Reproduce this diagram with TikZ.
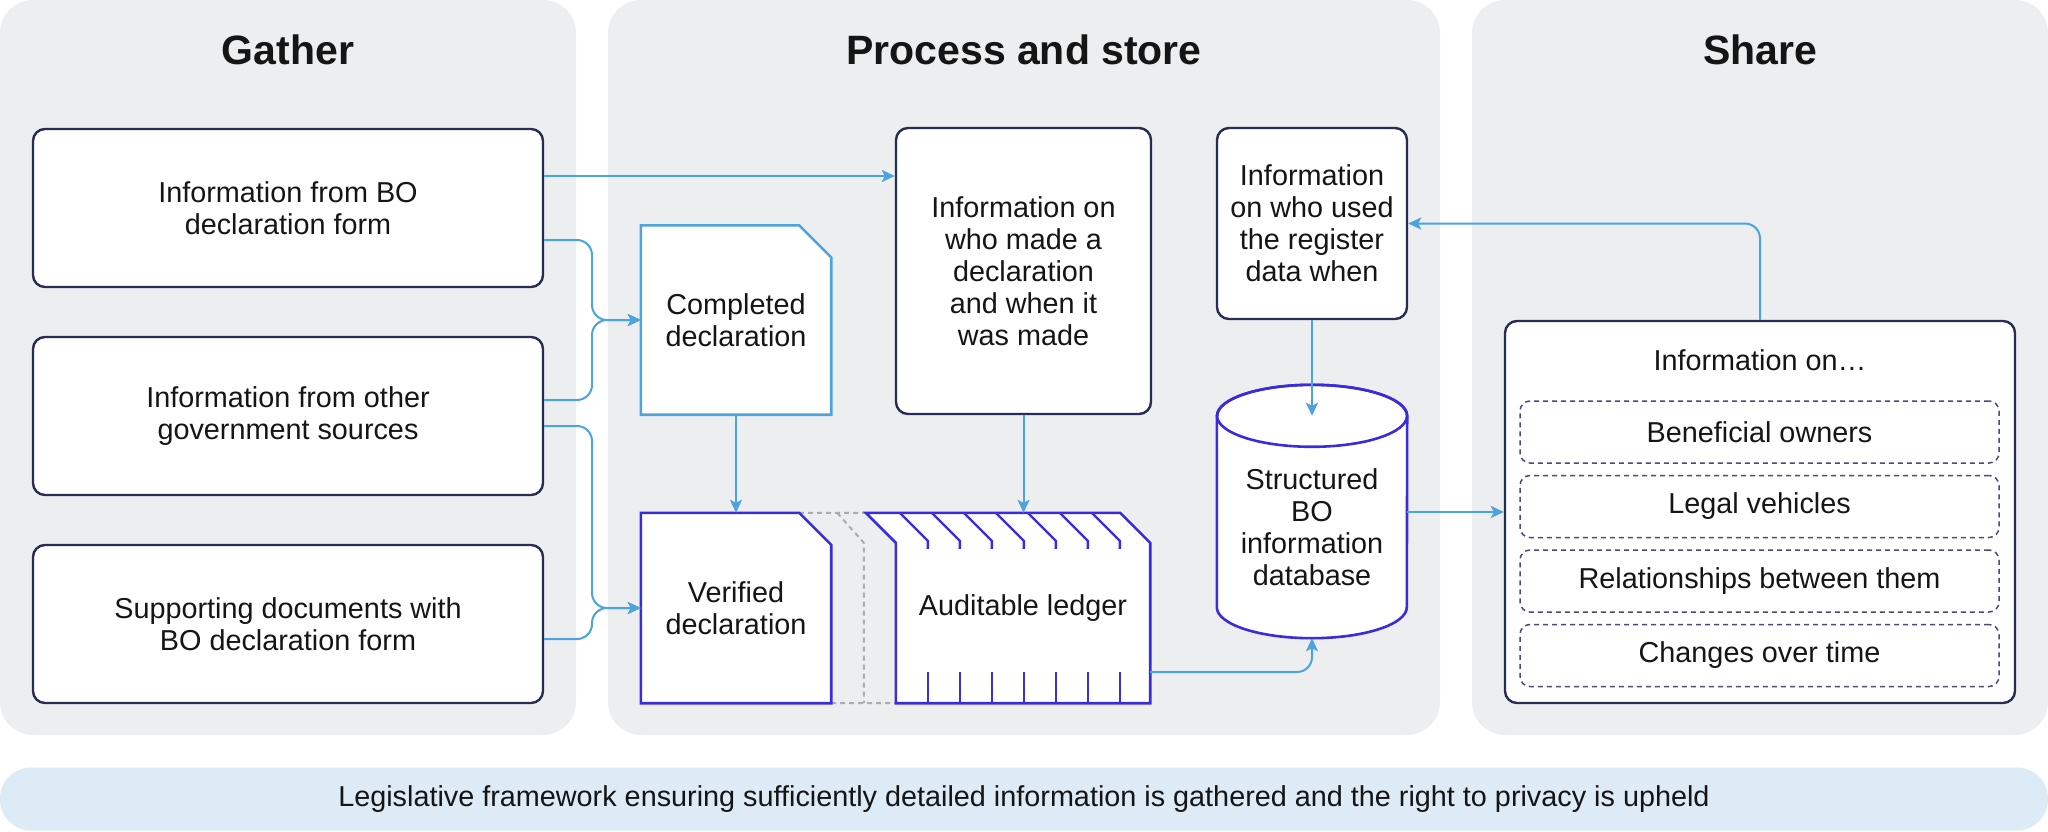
\documentclass[tikz,border=0pt]{standalone}
\usepackage{fontspec}
\setmainfont{Liberation Sans}
\usetikzlibrary{arrows.meta,calc}
\pgfdeclarelayer{back}
\pgfdeclarelayer{docs}
\pgfsetlayers{back,docs,main}
\definecolor{panel}{HTML}{EDEEF0}
\definecolor{navy}{HTML}{252C57}
\definecolor{lblue}{HTML}{4DA3DD}
\definecolor{purp}{HTML}{3A2BDB}
\definecolor{dgrey}{HTML}{A9ACB4}
\definecolor{barblue}{HTML}{DDEBF6}
\definecolor{ink}{HTML}{151515}
\definecolor{dashnavy}{HTML}{474C78}
\begin{document}
\begin{tikzpicture}[x=1pt,y=-1pt,
  title/.style={font=\fontsize{41}{46}\selectfont\bfseries, text=ink},
  txt/.style={font=\fontsize{28.8}{32}\selectfont, text=ink, align=center},
  rbox/.style={txt, draw=navy, line width=2.4pt, fill=white, rounded corners=12pt, inner sep=0pt},
  holder/.style={txt, inner sep=0pt},
  docline/.style={line width=2.6pt, fill=white, line join=miter},
  flow/.style={draw=lblue, line width=2pt, -{Stealth[length=13pt,width=12pt,inset=3pt]}},
  flowr/.style={flow, rounded corners=15pt},
  dbox/.style={txt, draw=dashnavy, line width=1.5pt, dash pattern=on 5pt off 4pt, rounded corners=10pt, minimum width=479pt, minimum height=62pt, inner sep=0pt},
  tick/.style={draw=purp, line width=2.4pt},
]
\useasboundingbox (0,0) rectangle (2048,832);

\begin{pgfonlayer}{back}
\fill[panel, rounded corners=33pt] (0,0) rectangle (576,735);
\fill[panel, rounded corners=33pt] (608,0) rectangle (1440,735);
\fill[panel, rounded corners=33pt] (1472,0) rectangle (2048,735);
\end{pgfonlayer}

% titles
\node[title] (t1) at (288,50) {Gather};
\node[title] (t2) at (1024,50) {Process and store};
\node[title] (t3) at (1760,50) {Share};

% gather
\node[rbox, minimum width=510pt, minimum height=158pt] (g1) at (288,208) {Information from BO\\declaration form};
\node[rbox, minimum width=510pt, minimum height=158pt] (g2) at (288,416) {Information from other\\government sources};
\node[rbox, minimum width=510pt, minimum height=158pt] (g3) at (288,624) {Supporting documents with\\BO declaration form};

% process
\node[holder, minimum width=190pt, minimum height=189pt] (comp) at (736,320) {Completed\\declaration};
\node[holder, minimum width=190pt, minimum height=190pt] (ver) at (736,608) {Verified\\declaration};
\node[holder, minimum width=254pt, minimum height=190pt] (led) at (1023,608) {Auditable ledger};
\node[rbox, minimum width=255pt, minimum height=286pt] (who) at (1023.5,271) {Information on\\who made a\\declaration\\and when it\\was made};
\node[rbox, minimum width=190pt, minimum height=191pt] (used) at (1312,223.5) {Information\\on who used\\the register\\data when};
\node[holder, minimum width=190pt, minimum height=222pt] (db) at (1312,527) {Structured\\BO\\information\\database};

\begin{pgfonlayer}{docs}
\draw[dgrey, line width=2pt, dash pattern=on 5pt off 4pt]
  ([xshift=-32pt]ver.north east) -- ([xshift=-30pt]led.north west)
  ([xshift=6pt]ver.north east) -- ([xshift=-32pt,yshift=-30pt]led.north west) -- ([xshift=-32pt]led.south west)
  (ver.south east) -- (led.south west);
\draw[docline, draw=lblue] (comp.south west) -- (comp.north west) -- ([xshift=-32pt]comp.north east) -- ([yshift=-32pt]comp.north east) -- (comp.south east) -- cycle;
\draw[docline, draw=purp] (ver.south west) -- (ver.north west) -- ([xshift=-32pt]ver.north east) -- ([yshift=-32pt]ver.north east) -- (ver.south east) -- cycle;
\draw[docline, draw=purp] ([xshift=-30pt]led.north west) -- ([xshift=-30pt]led.north east) -- ([yshift=-30pt]led.north east) -- (led.south east) -- (led.south west) -- ([yshift=-30pt]led.north west) -- cycle;
\foreach \i in {1,...,7} {
  \draw[tick] ($(led.north west)+(32*\i-28,0)$) -- ++(28,28) -- ++(0,8);
  \draw[tick] ($(led.south west)+(32*\i,0)$) -- ++(0,-31);
}
\draw[docline, draw=purp] (db.north west) -- ([yshift=31pt]db.south west) arc[start angle=180, end angle=360, x radius=95pt, y radius=31pt] -- (db.north east) arc[start angle=0, end angle=180, x radius=95pt, y radius=31pt] -- cycle;
\draw[purp, line width=2.6pt] (db.north) ellipse[x radius=95pt, y radius=31pt];
\end{pgfonlayer}

% share
\node[rbox, minimum width=510pt, minimum height=382pt] (share) at (1760,512) {};
\node[txt] (infoon) at (1760,360) {Information on…};
\node[dbox] (s1) at (1759.5,432) {Beneficial owners};
\node[dbox] (s2) at (1759.5,506.5) {Legal vehicles};
\node[dbox] (s3) at (1759.5,581) {Relationships between them};
\node[dbox] (s4) at (1759.5,655.5) {Changes over time};

% legislative bar
\node[txt, fill=barblue, rounded corners=31pt, minimum width=2048pt, minimum height=63pt, inner sep=0pt, font=\fontsize{28.8}{32}\selectfont] (law) at (1024,799) {Legislative framework ensuring sufficiently detailed information is gathered and the right to privacy is upheld};

% junctions
\coordinate (j1) at (592,320);
\coordinate (j2) at (592,608);

% connectors
\draw[flow] (g1.east |- 0,176) -- (who.west |- 0,176);
\draw[flowr] (g1.east |- 0,240) -| (j1) -- (comp.west);
\draw[flowr] (g2.east |- 0,400) -| (j1) -- (comp.west);
\draw[flowr] (g2.east |- 0,426) -| (j2) -- (ver.west);
\draw[flowr] (g3.east |- 0,639) -| (j2) -- (ver.west);
\draw[flow] (comp.south) -- (ver.north);
\draw[flow] (who.south) -- (who.south |- led.north);
\draw[flow] (used.south) -- (db.north);
\draw[flowr] (led.east |- 0,672) -| (db.south);
\draw[flow] (db.east |- 0,512) -- (share.west |- 0,512);
\draw[flowr] (share.north) |- (used.east);
\end{tikzpicture}
\end{document}
